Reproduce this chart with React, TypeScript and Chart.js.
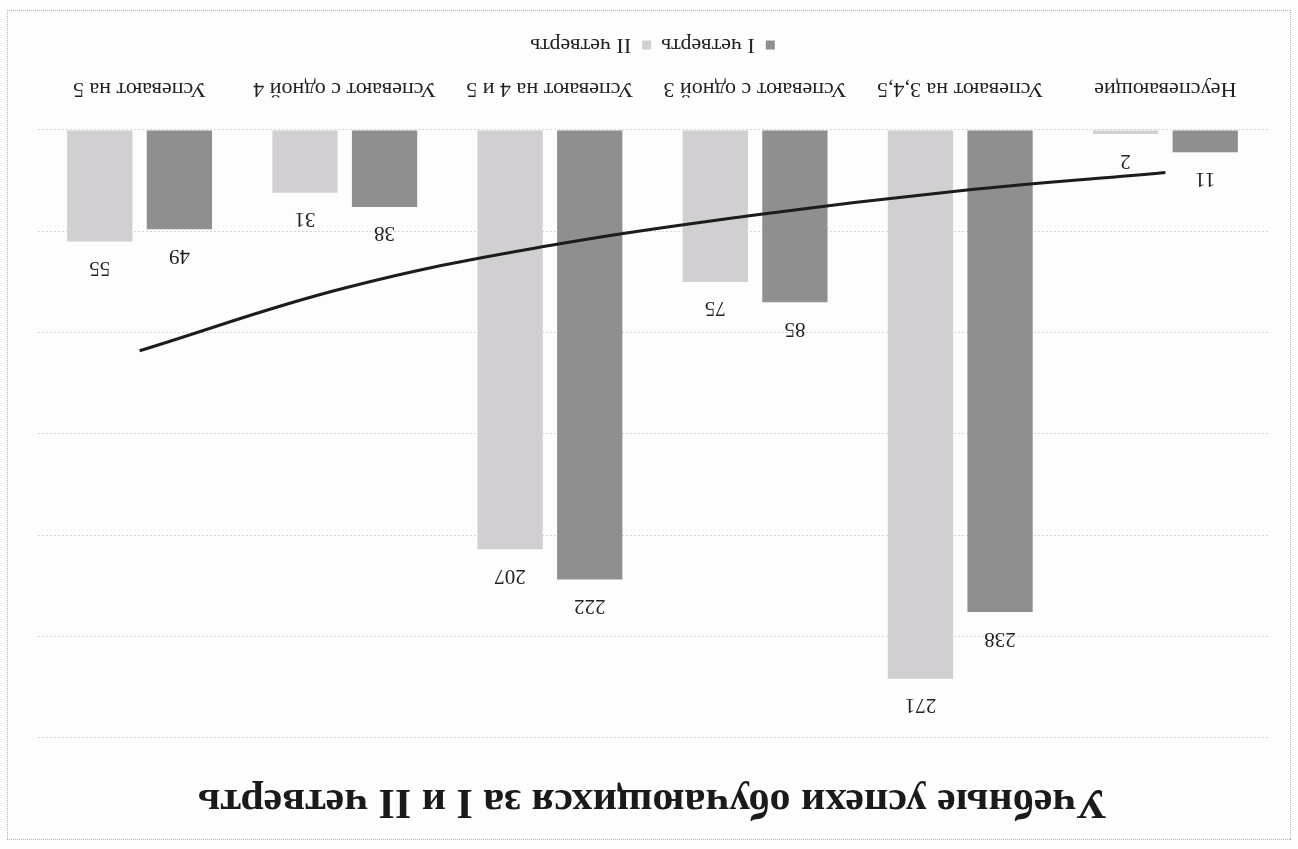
import React, { useEffect, useRef } from "react";
import { Chart, registerables } from "chart.js";

Chart.register(...registerables);

const categories = [
  "Неуспевающие",
  "Успевают на 3,4,5",
  "Успевают с одной 3",
  "Успевают на 4 и 5",
  "Успевают с одной 4",
  "Успевают на 5",
];
const seriesNames = ["I четверть", "II четверть"];
const quarter1 = [11, 238, 85, 222, 38, 49];
const quarter2 = [2, 271, 75, 207, 31, 55];
const trend = [21, 30, 42, 57, 78, 109];
const titleText = "Учебные успехи обучающихся за I и II четверть";

const FONT = "'Liberation Serif', 'Times New Roman', serif";

const valueLabels = {
  id: "valueLabels",
  afterDatasetsDraw(chart: any) {
    const ctx = chart.ctx;
    ctx.save();
    ctx.font = `21px ${FONT}`;
    ctx.fillStyle = "#222";
    ctx.textAlign = "center";
    ctx.textBaseline = "middle";
    chart.data.datasets.forEach((ds: any, i: number) => {
      if (ds.type === "line") return;
      const meta = chart.getDatasetMeta(i);
      meta.data.forEach((el: any, j: number) => {
        ctx.fillText(String(ds.data[j]), el.x, el.y - 26);
      });
    });
    ctx.restore();
  },
};

export default function App() {
  const ref = useRef<HTMLCanvasElement>(null);
  useEffect(() => {
    if (!ref.current) return;
    const chart = new Chart(ref.current, {
      type: "bar",
      data: {
        labels: categories,
        datasets: [
          {
            type: "line",
            label: "trend",
            data: trend,
            borderColor: "#1c1c1c",
            borderWidth: 3,
            pointRadius: 0,
            tension: 0.4,
            fill: false,
            order: 0,
          } as any,
          {
            label: seriesNames[0],
            data: quarter1,
            backgroundColor: "#8f8f8f",
            categoryPercentage: 0.776,
            barPercentage: 0.82,
            order: 1,
          },
          {
            label: seriesNames[1],
            data: quarter2,
            backgroundColor: "#d2cfd2",
            categoryPercentage: 0.776,
            barPercentage: 0.82,
            order: 1,
          },
        ],
      },
      options: {
        responsive: false,
        animation: false,
        layout: { padding: { left: 30, right: 37, top: 0, bottom: 24 } },
        plugins: {
          title: {
            display: true,
            text: titleText,
            color: "#1a1a1a",
            font: { family: FONT, size: 42, weight: "bold" },
            padding: { top: 23, bottom: 38 },
          },
          legend: {
            position: "bottom",
            labels: {
              color: "#222",
              font: { family: FONT, size: 22 },
              boxWidth: 9,
              boxHeight: 9,
              padding: 10,
              filter: (item: any) => item.text !== "trend",
            },
          },
          tooltip: { enabled: false },
        },
        scales: {
          x: {
            grid: { display: false },
            border: { display: false },
            ticks: {
              color: "#222",
              font: { family: FONT, size: 22 },
              padding: 20,
              maxRotation: 0,
              autoSkip: false,
            },
            afterFit: (s: any) => {
              s.height = 64;
            },
          },
          y: {
            min: 0,
            max: 300,
            ticks: { display: false, stepSize: 50 },
            grid: { color: "#d6d6d6", drawTicks: false, lineWidth: 1 },
            border: { display: false, dash: [2, 2] },
          },
        },
      },
      plugins: [valueLabels],
    });
    return () => chart.destroy();
  }, []);

  return (
    <div
      style={{
        position: "fixed",
        left: 0,
        top: 0,
        width: 1298,
        height: 849,
        background: "#fdfdfd",
        transform: "rotate(180deg)",
        overflow: "hidden",
      }}
    >
      <canvas ref={ref} width={1298} height={849} style={{ display: "block" }} />
      <div
        style={{
          position: "absolute",
          left: 7,
          top: 9,
          width: 1284,
          height: 830,
          border: "1px dotted #b5b5b5",
          boxSizing: "border-box",
          pointerEvents: "none",
        }}
      />
    </div>
  );
}
